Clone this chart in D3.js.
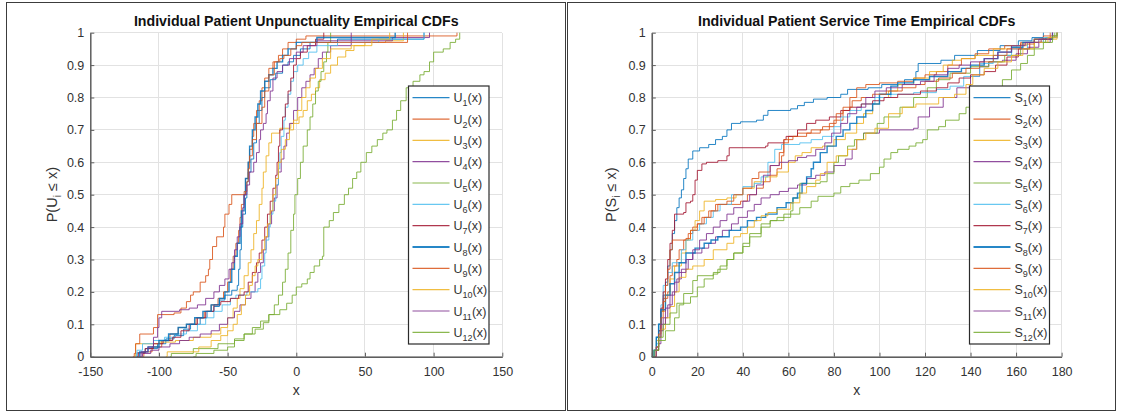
<!DOCTYPE html>
<html><head><meta charset="utf-8">
<script src="https://cdn.jsdelivr.net/npm/d3@7/dist/d3.min.js"></script>
<style>
body{margin:0;background:#fff}
svg{display:block;font-family:"Liberation Sans",Arial,Helvetica,sans-serif}
</style>
</head><body>
<svg id="c" width="1122" height="413"></svg>
<script>
// ---------- tick labels ----------
const xTicksU = [-150, -100, -50, 0, 50, 100, 150];
const xTicksS = [0, 20, 40, 60, 80, 100, 120, 140, 160, 180];
const yTicks = [0, 0.1, 0.2, 0.3, 0.4, 0.5, 0.6, 0.7, 0.8, 0.9, 1];
const seriesIndex = ["1","2","3","4","5","6","7","8","9","10","11","12"];
const seriesColors = ["#0072BD","#D95319","#EDB120","#7E2F8E","#77AC30","#4DBEEE","#A2142F","#0072BD","#D95319","#EDB120","#7E2F8E","#77AC30"];
const titleU = "Individual Patient Unpunctuality Empirical CDFs";
const titleS = "Individual Patient Service Time Empirical CDFs";

// ---------- unpunctuality ECDF steps [x, P] ----------
const u1 = [[-117,0],[-116,0.012],[-110,0.025],[-101,0.04],[-95,0.055],[-89,0.065],[-82,0.085],[-77,0.1],[-70,0.12],[-65,0.14],[-60,0.155],[-56,0.175],[-52,0.19],[-47,0.205],[-43,0.22],[-42,0.27],[-41,0.33],[-40,0.4],[-39,0.44],[-37,0.49],[-36,0.54],[-35,0.57],[-33,0.61],[-31,0.66],[-29,0.72],[-27,0.76],[-25,0.8],[-23,0.83],[-19,0.855],[-15,0.875],[-10,0.9],[-6,0.91],[-2,0.93],[3,0.95],[10,0.97],[30,0.98],[93,1]];
const u2 = [[-112,0],[-111,0.015],[-105,0.03],[-98,0.05],[-92,0.07],[-86,0.09],[-80,0.1],[-73,0.12],[-67,0.14],[-62,0.16],[-57,0.18],[-53,0.2],[-50,0.23],[-48,0.27],[-46,0.31],[-44,0.35],[-42,0.39],[-41,0.43],[-40,0.47],[-38,0.51],[-37,0.55],[-35,0.6],[-34,0.64],[-32,0.68],[-31,0.72],[-29,0.76],[-27,0.79],[-25,0.83],[-23,0.86],[-20,0.89],[-17,0.91],[-13,0.93],[-10,0.95],[-6,0.97],[0,0.98],[7,0.99],[117,1]];
const u3 = [[-118,0],[-117,0.04],[-100,0.045],[-88,0.05],[-75,0.06],[-62,0.07],[-55,0.09],[-50,0.12],[-46,0.15],[-43,0.18],[-41,0.21],[-38,0.25],[-35,0.29],[-33,0.33],[-31,0.38],[-29,0.42],[-27,0.47],[-25,0.52],[-24,0.57],[-22,0.62],[-20,0.66],[-18,0.69],[-12,0.705],[-4,0.72],[2,0.74],[5,0.76],[8,0.79],[11,0.81],[14,0.83],[17,0.855],[21,0.875],[25,0.9],[30,0.925],[36,0.945],[42,0.96],[50,0.97],[65,0.975],[78,1]];
const u4 = [[-113,0],[-112,0.01],[-106,0.02],[-100,0.03],[-92,0.04],[-85,0.05],[-78,0.06],[-70,0.07],[-62,0.08],[-56,0.1],[-50,0.12],[-45,0.14],[-41,0.16],[-37,0.18],[-33,0.2],[-30,0.23],[-28,0.26],[-26,0.29],[-24,0.33],[-22,0.37],[-20,0.41],[-18,0.45],[-16,0.49],[-14,0.53],[-13,0.57],[-11,0.61],[-9,0.65],[-7,0.69],[-5,0.72],[-2,0.76],[1,0.8],[4,0.83],[7,0.85],[10,0.87],[13,0.89],[16,0.92],[19,0.94],[25,0.96],[40,0.975],[70,0.985],[97,1]];
const u5 = [[-92,0],[-91,0.01],[-75,0.025],[-57,0.04],[-45,0.055],[-38,0.07],[-30,0.085],[-24,0.105],[-20,0.13],[-16,0.16],[-13,0.19],[-10,0.23],[-8,0.27],[-6,0.32],[-4,0.39],[-2,0.44],[-1,0.5],[1,0.55],[3,0.6],[5,0.65],[8,0.7],[10,0.74],[12,0.78],[14,0.82],[16,0.85],[18,0.88],[20,0.91],[22,0.94],[23,0.97],[25,1]];
const u6 = [[-117,0],[-116,0.02],[-112,0.04],[-104,0.05],[-96,0.06],[-88,0.07],[-80,0.08],[-72,0.1],[-66,0.12],[-60,0.14],[-54,0.16],[-48,0.18],[-44,0.19],[-36,0.2],[-28,0.21],[-26,0.24],[-25,0.28],[-23,0.32],[-22,0.36],[-20,0.4],[-19,0.44],[-17,0.48],[-15,0.53],[-13,0.58],[-12,0.63],[-11,0.68],[-9,0.73],[-8,0.77],[-6,0.81],[-4,0.85],[-2,0.88],[1,0.9],[5,0.92],[9,0.94],[15,0.96],[30,0.97],[60,0.98],[93,1]];
const u7 = [[-116,0],[-115,0.012],[-110,0.025],[-104,0.04],[-97,0.05],[-90,0.06],[-84,0.08],[-78,0.1],[-72,0.12],[-66,0.14],[-60,0.16],[-55,0.17],[-48,0.18],[-42,0.19],[-38,0.2],[-35,0.23],[-32,0.26],[-29,0.29],[-27,0.32],[-25,0.36],[-23,0.4],[-21,0.44],[-19,0.48],[-17,0.52],[-15,0.56],[-14,0.6],[-13,0.65],[-12,0.7],[-10,0.74],[-8,0.78],[-6,0.82],[-4,0.86],[-2,0.9],[0,0.92],[3,0.94],[8,0.96],[14,0.98],[20,1]];
const u8 = [[-115,0],[-114,0.015],[-108,0.03],[-100,0.05],[-93,0.07],[-86,0.09],[-80,0.1],[-74,0.12],[-68,0.14],[-62,0.16],[-56,0.18],[-52,0.2],[-49,0.23],[-47,0.27],[-45,0.31],[-43,0.35],[-41,0.4],[-40,0.45],[-38,0.5],[-37,0.55],[-35,0.6],[-34,0.65],[-32,0.7],[-30,0.74],[-28,0.78],[-26,0.82],[-23,0.85],[-20,0.87],[-17,0.89],[-14,0.91],[-10,0.93],[-6,0.95],[0,0.97],[15,0.985],[72,1]];
const u9 = [[-119,0],[-118,0.01],[-117,0.04],[-114,0.07],[-104,0.09],[-101,0.13],[-89,0.135],[-84,0.15],[-80,0.17],[-77,0.19],[-75,0.2],[-70,0.23],[-66,0.25],[-64,0.27],[-63,0.3],[-61,0.34],[-58,0.37],[-53,0.4],[-52,0.44],[-49,0.47],[-47,0.5],[-37,0.51],[-36,0.54],[-35,0.58],[-34,0.62],[-32,0.67],[-29,0.72],[-25,0.77],[-23,0.82],[-20,0.87],[-16,0.91],[-12,0.92],[-9,0.93],[-4,0.95],[0,0.96],[4,0.97],[81,1]];
const u10 = [[-95,0],[-94,0.015],[-71,0.03],[-62,0.05],[-55,0.065],[-50,0.08],[-46,0.1],[-43,0.13],[-40,0.16],[-37,0.19],[-34,0.22],[-32,0.25],[-30,0.28],[-28,0.3],[-25,0.33],[-23,0.37],[-21,0.41],[-19,0.45],[-17,0.5],[-15,0.55],[-13,0.6],[-11,0.64],[-8,0.67],[-5,0.7],[-2,0.73],[1,0.76],[4,0.8],[7,0.83],[10,0.86],[14,0.89],[19,0.92],[25,0.95],[40,0.96],[55,0.98],[68,1]];
const u11 = [[-114,0],[-113,0.015],[-108,0.03],[-104,0.06],[-101,0.09],[-100,0.12],[-98,0.14],[-85,0.145],[-78,0.15],[-72,0.16],[-66,0.18],[-60,0.2],[-56,0.22],[-52,0.24],[-49,0.27],[-47,0.29],[-45,0.33],[-43,0.37],[-41,0.41],[-39,0.46],[-38,0.5],[-36,0.53],[-34,0.57],[-31,0.6],[-29,0.63],[-27,0.67],[-26,0.7],[-24,0.72],[-22,0.75],[-21,0.79],[-19,0.82],[-17,0.86],[-14,0.88],[-10,0.9],[-5,0.92],[0,0.94],[5,0.96],[15,0.975],[40,1]];
const u12 = [[-75,0],[-73,0.01],[-60,0.02],[-50,0.03],[-45,0.05],[-38,0.07],[-32,0.09],[-26,0.11],[-20,0.13],[-12,0.145],[-7,0.165],[-3,0.19],[0,0.215],[4,0.225],[8,0.24],[10,0.26],[13,0.28],[17,0.3],[19,0.31],[20,0.4],[24,0.42],[27,0.445],[31,0.47],[35,0.5],[38,0.52],[41,0.55],[44,0.57],[47,0.6],[51,0.63],[55,0.65],[59,0.67],[63,0.69],[66,0.7],[70,0.73],[73,0.76],[76,0.79],[80,0.83],[85,0.85],[90,0.87],[93,0.88],[97,0.91],[100,0.94],[107,0.95],[112,0.97],[116,0.98],[119,1]];

// ---------- service time ECDF steps [x, P] ----------
const s1 = [[0,0],[1,0.02],[2,0.06],[3,0.1],[4,0.14],[5,0.19],[6,0.23],[7,0.28],[8,0.33],[9,0.38],[10,0.42],[11,0.46],[12,0.49],[13,0.515],[14,0.55],[15,0.58],[16,0.61],[18,0.635],[21,0.645],[25,0.655],[28,0.67],[31,0.68],[33,0.7],[35,0.72],[39,0.725],[46,0.73],[49,0.745],[51,0.76],[61,0.765],[64,0.775],[67,0.785],[71,0.795],[77,0.8],[83,0.81],[86,0.825],[95,0.83],[101,0.84],[111,0.855],[116,0.88],[117,0.905],[127,0.915],[133,0.93],[143,0.945],[153,0.96],[161,0.975],[167,0.985],[172,1]];
const s2 = [[1,0],[2,0.03],[3,0.08],[4,0.14],[5,0.18],[7,0.2],[8,0.25],[9,0.28],[11,0.3],[12,0.33],[14,0.36],[16,0.38],[18,0.4],[20,0.41],[22,0.43],[25,0.45],[28,0.47],[39,0.48],[42,0.5],[46,0.52],[49,0.54],[52,0.56],[55,0.58],[57,0.62],[58,0.66],[60,0.68],[64,0.69],[70,0.7],[75,0.71],[80,0.73],[84,0.76],[87,0.8],[90,0.83],[94,0.84],[100,0.845],[108,0.85],[115,0.86],[120,0.87],[125,0.88],[130,0.9],[136,0.92],[142,0.935],[148,0.95],[155,0.96],[162,0.97],[168,0.98],[172,0.99],[178,1]];
const s3 = [[1,0],[2,0.05],[3,0.1],[4,0.14],[6,0.19],[8,0.24],[10,0.28],[13,0.32],[15,0.36],[17,0.39],[19,0.42],[21,0.45],[23,0.48],[28,0.485],[33,0.49],[37,0.5],[40,0.52],[45,0.54],[50,0.555],[55,0.57],[60,0.6],[63,0.62],[66,0.63],[70,0.645],[75,0.65],[80,0.67],[85,0.69],[90,0.72],[93,0.75],[97,0.78],[100,0.8],[104,0.82],[108,0.84],[115,0.86],[122,0.88],[128,0.9],[132,0.915],[136,0.92],[142,0.93],[150,0.95],[158,0.96],[165,0.97],[172,0.98],[178,1]];
const s4 = [[1,0],[2,0.02],[3,0.04],[4,0.08],[5,0.12],[7,0.16],[9,0.2],[11,0.24],[13,0.27],[16,0.3],[18,0.32],[22,0.335],[25,0.35],[28,0.37],[31,0.39],[35,0.41],[38,0.43],[42,0.45],[45,0.47],[48,0.49],[52,0.5],[56,0.51],[60,0.52],[64,0.53],[68,0.55],[72,0.56],[76,0.57],[80,0.59],[85,0.61],[88,0.64],[90,0.67],[93,0.69],[100,0.7],[115,0.705],[117,0.74],[122,0.77],[128,0.8],[134,0.83],[140,0.865],[144,0.895],[148,0.91],[154,0.915],[160,0.935],[165,0.955],[170,0.97],[175,0.985],[178,1]];
const s5 = [[1,0],[2,0.02],[3,0.05],[6,0.08],[10,0.12],[12,0.16],[14,0.195],[18,0.235],[20,0.25],[27,0.26],[30,0.28],[33,0.3],[36,0.32],[40,0.35],[43,0.38],[48,0.41],[52,0.42],[55,0.43],[61,0.45],[62,0.49],[65,0.535],[74,0.54],[77,0.565],[80,0.6],[82,0.62],[86,0.65],[89,0.67],[93,0.69],[99,0.72],[102,0.74],[109,0.77],[115,0.8],[121,0.83],[125,0.855],[131,0.875],[140,0.895],[148,0.91],[155,0.93],[162,0.95],[168,0.97],[173,0.985],[177,1]];
const s6 = [[1,0],[2,0.04],[3,0.1],[4,0.16],[5,0.22],[7,0.26],[9,0.29],[13,0.33],[15,0.36],[18,0.39],[21,0.41],[24,0.43],[27,0.45],[30,0.47],[35,0.5],[40,0.525],[45,0.535],[48,0.555],[51,0.6],[54,0.64],[57,0.655],[65,0.66],[70,0.67],[75,0.68],[80,0.71],[83,0.74],[87,0.76],[92,0.78],[98,0.8],[105,0.81],[115,0.815],[125,0.825],[131,0.835],[137,0.865],[144,0.905],[150,0.93],[158,0.95],[165,0.97],[172,0.985],[178,1]];
const s7 = [[1,0],[2,0.02],[3,0.08],[4,0.15],[5,0.2],[6,0.24],[7,0.3],[8,0.35],[9,0.39],[10,0.44],[14,0.445],[15,0.475],[17,0.48],[18,0.5],[19,0.545],[20,0.575],[22,0.595],[24,0.6],[29,0.605],[33,0.62],[34,0.645],[50,0.65],[51,0.66],[58,0.67],[59,0.68],[64,0.7],[68,0.72],[72,0.73],[78,0.74],[83,0.76],[87,0.77],[92,0.78],[97,0.79],[102,0.8],[108,0.81],[118,0.82],[125,0.83],[130,0.845],[135,0.86],[140,0.87],[146,0.88],[151,0.9],[156,0.925],[161,0.95],[166,0.97],[171,0.98],[176,1]];
const s8 = [[0,0],[1,0.02],[2,0.06],[3,0.1],[4,0.145],[6,0.19],[8,0.225],[10,0.26],[12,0.29],[15,0.32],[19,0.335],[23,0.35],[26,0.36],[29,0.37],[34,0.39],[39,0.4],[42,0.42],[46,0.43],[50,0.44],[55,0.46],[59,0.475],[62,0.49],[64,0.505],[66,0.535],[68,0.555],[70,0.58],[71,0.6],[74,0.63],[77,0.65],[81,0.68],[84,0.7],[87,0.72],[90,0.74],[94,0.76],[97,0.78],[100,0.81],[105,0.835],[108,0.845],[115,0.855],[122,0.865],[130,0.88],[136,0.89],[140,0.9],[146,0.92],[152,0.94],[158,0.955],[163,0.97],[168,0.98],[176,1]];
const s9 = [[1,0],[2,0.03],[3,0.07],[4,0.12],[5,0.17],[6,0.22],[7,0.27],[8,0.33],[9,0.36],[15,0.365],[17,0.39],[20,0.41],[23,0.43],[26,0.45],[29,0.47],[33,0.48],[36,0.5],[40,0.52],[44,0.55],[47,0.57],[52,0.59],[56,0.63],[58,0.67],[62,0.68],[68,0.69],[74,0.7],[78,0.72],[81,0.75],[84,0.77],[88,0.79],[92,0.8],[97,0.81],[103,0.82],[110,0.83],[116,0.84],[120,0.85],[126,0.86],[132,0.875],[138,0.89],[144,0.91],[150,0.93],[156,0.95],[162,0.965],[168,0.98],[175,1]];
const s10 = [[1,0],[2,0.03],[3,0.06],[4,0.085],[6,0.12],[8,0.155],[10,0.2],[12,0.245],[15,0.27],[18,0.28],[23,0.3],[27,0.33],[33,0.35],[36,0.37],[39,0.38],[42,0.4],[45,0.42],[48,0.435],[51,0.445],[55,0.455],[61,0.475],[65,0.505],[68,0.525],[72,0.545],[74,0.565],[77,0.6],[81,0.62],[86,0.64],[90,0.67],[94,0.69],[98,0.705],[104,0.75],[110,0.77],[116,0.78],[126,0.8],[133,0.81],[138,0.84],[141,0.87],[146,0.89],[152,0.91],[158,0.93],[163,0.95],[168,0.97],[174,0.985],[178,1]];
const s11 = [[1,0],[2,0.03],[3,0.06],[4,0.1],[6,0.15],[8,0.19],[10,0.23],[12,0.26],[15,0.3],[18,0.33],[21,0.36],[24,0.38],[27,0.4],[30,0.42],[33,0.44],[36,0.46],[40,0.48],[43,0.5],[46,0.53],[49,0.56],[52,0.59],[56,0.6],[60,0.605],[64,0.615],[68,0.62],[72,0.64],[76,0.66],[79,0.69],[83,0.72],[86,0.75],[90,0.77],[94,0.8],[98,0.82],[103,0.83],[110,0.84],[118,0.85],[124,0.87],[130,0.89],[135,0.9],[140,0.91],[146,0.92],[152,0.94],[158,0.96],[164,0.97],[170,0.98],[176,1]];
const s12 = [[0,0],[1,0.02],[3,0.06],[5,0.1],[8,0.135],[11,0.165],[17,0.185],[20,0.215],[23,0.24],[27,0.255],[29,0.27],[33,0.3],[36,0.32],[40,0.34],[43,0.37],[48,0.4],[52,0.42],[58,0.44],[65,0.46],[70,0.48],[73,0.495],[80,0.505],[83,0.525],[87,0.535],[91,0.545],[96,0.565],[100,0.585],[102,0.61],[105,0.63],[108,0.64],[113,0.65],[116,0.66],[119,0.67],[121,0.7],[126,0.71],[129,0.73],[135,0.75],[138,0.77],[145,0.79],[148,0.82],[154,0.855],[158,0.885],[162,0.905],[165,0.93],[168,0.95],[172,0.97],[176,0.99],[178,1]];

const uSeries = [u1,u2,u3,u4,u5,u6,u7,u8,u9,u10,u11,u12];
const sSeries = [s1,s2,s3,s4,s5,s6,s7,s8,s9,s10,s11,s12];

// ---------- drawing ----------
const svg = d3.select("#c");
const tickColor = "#333";
const axisColor = "#5e5e5e";

// panel frames
svg.append("rect").attr("x",6.5).attr("y",2.5).attr("width",559).attr("height",408)
  .attr("fill","none").attr("stroke","#3c3c3c").attr("stroke-width",1);
svg.append("rect").attr("x",567.5).attr("y",2.5).attr("width",548).attr("height",408)
  .attr("fill","none").attr("stroke","#3c3c3c").attr("stroke-width",1);

function drawPanel(o){
  const g = svg.append("g");
  const x = d3.scaleLinear().domain(o.xDomain).range([o.left, o.right]);
  const y = d3.scaleLinear().domain([0,1]).range([o.bottom, o.top]);

  // grid
  g.append("g").selectAll("line").data(o.xTicks).join("line")
    .attr("x1",d=>x(d)).attr("x2",d=>x(d)).attr("y1",o.top).attr("y2",o.bottom)
    .attr("stroke","#e2e2e2").attr("stroke-width",1).attr("shape-rendering","crispEdges");
  g.append("g").selectAll("line").data(yTicks).join("line")
    .attr("y1",d=>y(d)).attr("y2",d=>y(d)).attr("x1",o.left).attr("x2",o.right)
    .attr("stroke","#e2e2e2").attr("stroke-width",1).attr("shape-rendering","crispEdges");

  // series
  const line = d3.line().x(d=>x(d[0])).y(d=>y(d[1])).curve(d3.curveStepAfter);
  g.append("g").selectAll("path").data(o.series).join("path")
    .attr("d",d=>line(d)).attr("fill","none")
    .attr("stroke",(d,i)=>seriesColors[i]).attr("stroke-opacity",0.85)
    .attr("stroke-width",(d,i)=> i===7 ? 1.4 : 1);

  // axes
  const xa = g.append("g").attr("transform",`translate(0,${o.bottom})`)
    .call(d3.axisBottom(x).tickValues(o.xTicks).tickSize(-4).tickSizeOuter(0).tickPadding(10).tickFormat(d=>String(d)));
  const ya = g.append("g").attr("transform",`translate(${o.left},0)`)
    .call(d3.axisLeft(y).tickValues(yTicks).tickSize(-4).tickSizeOuter(0).tickPadding(6).tickFormat(d=>String(+d.toFixed(1))));
  [xa,ya].forEach(a=>{
    a.select(".domain").attr("stroke",axisColor).attr("stroke-width",1.5);
    a.selectAll(".tick line").attr("stroke",axisColor).attr("stroke-width",1);
    a.selectAll(".tick text").attr("fill",tickColor).attr("font-size",12.5).attr("font-family",null);
  });
  xa.selectAll(".tick text").attr("dy","0.71em");

  // title
  g.append("text").attr("x",(o.left+o.right)/2).attr("y",26).attr("text-anchor","middle")
    .attr("font-size",14.2).attr("font-weight","bold").attr("fill","#111").text(o.title);
  // x label
  g.append("text").attr("x",(o.left+o.right)/2).attr("y",395).attr("text-anchor","middle")
    .attr("font-size",14).attr("fill","#333").text("x");
  // y label
  const yl = g.append("text").attr("transform",`translate(${o.ylabelX},${(o.top+o.bottom)/2}) rotate(-90)`)
    .attr("text-anchor","middle").attr("font-size",14.5).attr("fill","#333");
  yl.append("tspan").text(`P(${o.letter}`);
  yl.append("tspan").attr("dy",4).attr("font-size",10).text("i");
  yl.append("tspan").attr("dy",-4).text(" \u2264 x)");

  // legend
  const lg = g.append("g");
  lg.append("rect").attr("x",o.legX).attr("y",86).attr("width",o.legW).attr("height",258)
    .attr("fill","#fff").attr("stroke","#2b2b2b").attr("stroke-width",1.2);
  seriesIndex.forEach((lab,i)=>{
    const yy = 97.7 + i*21.33;
    lg.append("line").attr("x1",o.legX+4).attr("x2",o.legX+41).attr("y1",yy).attr("y2",yy)
      .attr("stroke",seriesColors[i]).attr("stroke-opacity",0.85).attr("stroke-width", i===7 ? 2.2 : 1.2);
    const t = lg.append("text").attr("x",o.legX+45).attr("y",yy+4.5).attr("font-size",12.5).attr("fill","#333");
    t.append("tspan").text(o.letter);
    t.append("tspan").attr("dy",4).attr("font-size",9).text(lab);
    t.append("tspan").attr("dy",-4).text("(x)");
  });
}

drawPanel({xDomain:[-150,150], left:90.3, right:502.3, top:32.7, bottom:356.7,
  xTicks:xTicksU, series:uSeries, title:titleU, letter:"U", ylabelX:57, legX:408.5, legW:80.5});
drawPanel({xDomain:[0,180], left:651.8, right:1061.6, top:32.7, bottom:356.7,
  xTicks:xTicksS, series:sSeries, title:titleS, letter:"S", ylabelX:616, legX:969.5, legW:80});
</script>
</body></html>
